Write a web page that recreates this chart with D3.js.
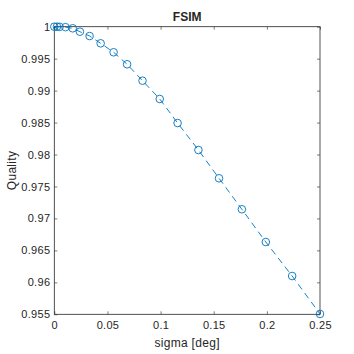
<!DOCTYPE html>
<html>
<head>
<script src="https://d3js.org/d3.v7.min.js" charset="utf-8"></script>
<style>
body { margin: 0; background: #fff; }
text { font-family: "Liberation Sans", Arial, sans-serif; fill: #262626; }
</style>
</head>
<body>
<script>
var w = 354;
var h = 354;

// data
var sigma = [0, 0.0025, 0.005, 0.0105, 0.0173, 0.0241, 0.0332, 0.0436, 0.0558, 0.0685,
    0.083, 0.0992, 0.116, 0.1356, 0.155, 0.1765, 0.199, 0.2238, 0.25];
var quality = [1, 1, 0.99998, 0.99993, 0.99975, 0.99922, 0.99854, 0.9974, 0.996, 0.99412,
    0.99155, 0.98869, 0.98493, 0.98071, 0.97628, 0.97143, 0.96631, 0.96099, 0.95505];
var xTicks = [0, 0.05, 0.1, 0.15, 0.2, 0.25];
var yTicks = [0.955, 0.96, 0.965, 0.97, 0.975, 0.98, 0.985, 0.99, 0.995, 1];

var padL = 54.3, padR = 320, padT = 26.7, padB = 314.3;
var blue = "#0072BD";

var svg = d3.select("body")
    .append("svg")
    .attr("width", w)
    .attr("height", h);

var x = d3.scaleLinear().domain([0, 0.25]).range([padL, padR]);
var y = d3.scaleLinear().domain([0.955, 1]).range([padB, padT]);

function axisStyle(g) {
    g.select(".domain").remove();
    g.selectAll("line").attr("stroke", "#262626").attr("stroke-width", 0.6);
    g.selectAll("text")
        .attr("font-size", "11px")
        .attr("letter-spacing", "0.3px")
        .style("fill", "#262626");
}

svg.append("g")
    .attr("transform", "translate(0," + padB + ")")
    .call(d3.axisBottom(x).tickValues(xTicks).tickSize(-3).tickPadding(7).tickFormat(d3.format("")))
    .call(axisStyle);

svg.append("g")
    .attr("transform", "translate(0," + padT + ")")
    .call(d3.axisTop(x).tickValues(xTicks).tickSize(-3).tickFormat(""))
    .call(axisStyle);

svg.append("g")
    .attr("transform", "translate(" + padL + ",0)")
    .call(d3.axisLeft(y).tickValues(yTicks).tickSize(-3).tickPadding(4).tickFormat(d3.format("")))
    .call(axisStyle);

svg.append("g")
    .attr("transform", "translate(" + padR + ",0)")
    .call(d3.axisRight(y).tickValues(yTicks).tickSize(-3).tickFormat(""))
    .call(axisStyle);

svg.append("rect")
    .attr("x", padL)
    .attr("y", padT)
    .attr("width", padR - padL)
    .attr("height", padB - padT)
    .attr("fill", "none")
    .attr("stroke", "#262626")
    .attr("stroke-width", 0.8);

var pts = sigma.map(function(s, i) { return [s, quality[i]]; });

svg.append("path")
    .datum(pts)
    .attr("fill", "none")
    .attr("stroke", blue)
    .attr("stroke-width", 0.9)
    .attr("stroke-dasharray", "6.5,4.5")
    .attr("d", d3.line().x(function(d) { return x(d[0]); }).y(function(d) { return y(d[1]); }));

svg.selectAll("circle.m")
    .data(pts)
    .enter()
    .append("circle")
    .attr("class", "m")
    .attr("cx", function(d) { return x(d[0]); })
    .attr("cy", function(d) { return y(d[1]); })
    .attr("r", 3.8)
    .attr("fill", "none")
    .attr("stroke", blue)
    .attr("stroke-width", 0.9);

svg.append("text")
    .attr("x", (padL + padR) / 2)
    .attr("y", 21)
    .attr("text-anchor", "middle")
    .attr("font-size", "12px")
    .attr("font-weight", "bold")
    .text("FSIM");

svg.append("text")
    .attr("x", (padL + padR) / 2)
    .attr("y", 347)
    .attr("text-anchor", "middle")
    .attr("font-size", "12px")
    .attr("letter-spacing", "0.3px")
    .text("sigma [deg]");

svg.append("text")
    .attr("transform", "translate(15.5," + (padT + padB) / 2 + ") rotate(-90)")
    .attr("text-anchor", "middle")
    .attr("font-size", "12px")
    .attr("letter-spacing", "0.3px")
    .text("Quality");
</script>
</body>
</html>
